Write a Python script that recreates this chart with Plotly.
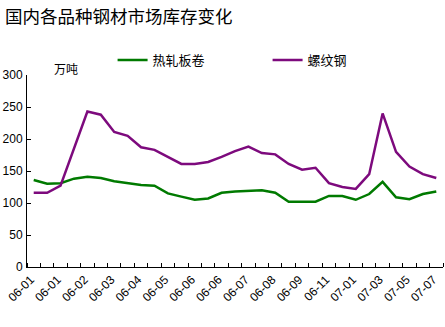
import plotly.graph_objects as go

title_text = "国内各品种钢材市场库存变化"
unit_text = "万吨"
series_names = ["热轧板卷", "螺纹钢"]

tick_labels = ["06-01", "06-01", "06-02", "06-03", "06-04", "06-05", "06-06", "06-06",
               "06-07", "06-08", "06-09", "06-11", "07-01", "07-03", "07-05", "07-07"]

hot_rolled = [136, 130, 131, 138, 141, 139, 134, 131, 128, 127, 115, 110, 105, 107, 116,
              118, 119, 120, 116, 102, 102, 102, 111, 111, 105, 114, 133, 109, 106, 114, 118]
rebar = [116, 116, 127, 184, 243, 238, 211, 205, 187, 183, 172, 161, 161, 164, 172,
         181, 188, 178, 176, 161, 152, 155, 131, 125, 122, 145, 240, 180, 157, 145, 139]

x = list(range(len(hot_rolled)))
tickvals = x[::2]

fig = go.Figure()
fig.add_trace(go.Scatter(x=x, y=hot_rolled, mode="lines", name=series_names[0],
                         line=dict(color="#007a00", width=2.5)))
fig.add_trace(go.Scatter(x=x, y=rebar, mode="lines", name=series_names[1],
                         line=dict(color="#7d0a7d", width=2.5)))

num_font = "Liberation Sans, Arial, sans-serif"
cjk = "Noto Sans CJK SC, sans-serif"

fig.update_layout(
    width=445, height=327,
    margin=dict(l=27, r=2, t=75, b=60, autoexpand=False),
    paper_bgcolor="white", plot_bgcolor="white",
    showlegend=True,
    title=dict(text=title_text, x=0.011, xanchor="left", y=0.948, yanchor="middle",
               font=dict(family=cjk, size=17.5, color="black")),
    legend=dict(orientation="h", xref="container", yref="container",
                x=0.253, y=1 - 60 / 327, xanchor="left", yanchor="middle",
                entrywidth=110, entrywidthmode="pixels",
                font=dict(family=cjk, size=13, color="black"),
                bgcolor="rgba(0,0,0,0)"),
    xaxis=dict(range=[-0.5, len(x) - 0.5], tickvals=tickvals, ticktext=tick_labels,
               tickangle=-45, ticks="", showgrid=False, zeroline=False,
               showline=True, linecolor="black", linewidth=1,
               ticklabelshift=-3, automargin=False, ticklabeloverflow="allow",
               tickfont=dict(family=num_font, size=12, color="black"),
               minor=dict(tick0=-0.5, dtick=1, ticks="inside", ticklen=4,
                          tickcolor="black", showgrid=False)),
    yaxis=dict(range=[0, 300], dtick=50, showgrid=False, zeroline=False,
               showline=True, linecolor="black", linewidth=1,
               ticks="inside", ticklen=4, tickcolor="black",
               ticklabelstandoff=1, automargin=False,
               tickfont=dict(family=num_font, size=12, color="black")),
    annotations=[dict(text=unit_text, xref="paper", yref="paper", x=25 / 416, y=1.035,
                      xanchor="left", yanchor="middle", showarrow=False,
                      font=dict(family=cjk, size=12, color="black"))],
)

fig.write_html("out.html")
